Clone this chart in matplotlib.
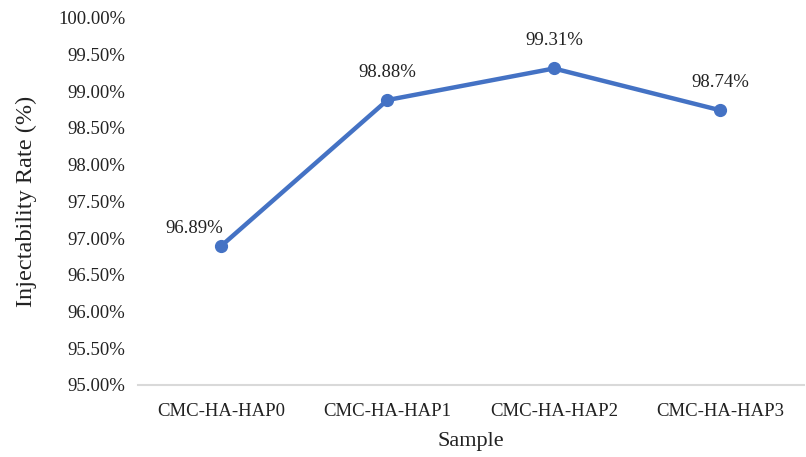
import matplotlib.pyplot as plt
from matplotlib.ticker import FuncFormatter

# 样品与可注射率数据
samples = ["CMC-HA-HAP0", "CMC-HA-HAP1", "CMC-HA-HAP2", "CMC-HA-HAP3"]
rates = [96.89, 98.88, 99.31, 98.74]

plt.rcParams['font.family'] = ['Liberation Serif', 'DejaVu Serif']

fig = plt.figure(figsize=(8.06, 4.57), dpi=100)
ax = fig.add_axes([0.171, 0.158, 0.826, 0.803])

x = range(len(samples))
ax.plot(x, rates, color="#4472C4", linewidth=3.2, marker="o", markersize=8.5,
        solid_capstyle="round")

# 数据标签，第一个点的标签放在左上方避开折线
for i, v in zip(x, rates):
    off = (-19, 13) if i == 0 else (0, 20)
    ax.annotate("%.2f%%" % v, (i, v), xytext=off, textcoords="offset points",
                ha="center", va="center", fontsize=13.5, color="#222222")

ax.set_xlim(-0.5, len(samples) - 0.5)
ax.set_ylim(95, 100)
ax.set_yticks([95 + 0.5 * k for k in range(11)])
ax.yaxis.set_major_formatter(FuncFormatter(lambda v, p: "%.2f%%" % v))
ax.set_xticks(list(x))
ax.set_xticklabels(samples)

ax.tick_params(axis="both", length=0, labelsize=13.5, colors="#222222")
ax.tick_params(axis="x", pad=13)
ax.tick_params(axis="y", pad=9)
for s in ["top", "right", "left"]:
    ax.spines[s].set_visible(False)
ax.spines["bottom"].set_color("#D9D9D9")
ax.spines["bottom"].set_linewidth(1.5)

ax.set_xlabel("Sample", fontsize=16, color="#222222", labelpad=9)
ax.set_ylabel("Injectability Rate (%)", fontsize=17.5, color="#222222", labelpad=15)

fig.savefig("out.png", dpi=100)
